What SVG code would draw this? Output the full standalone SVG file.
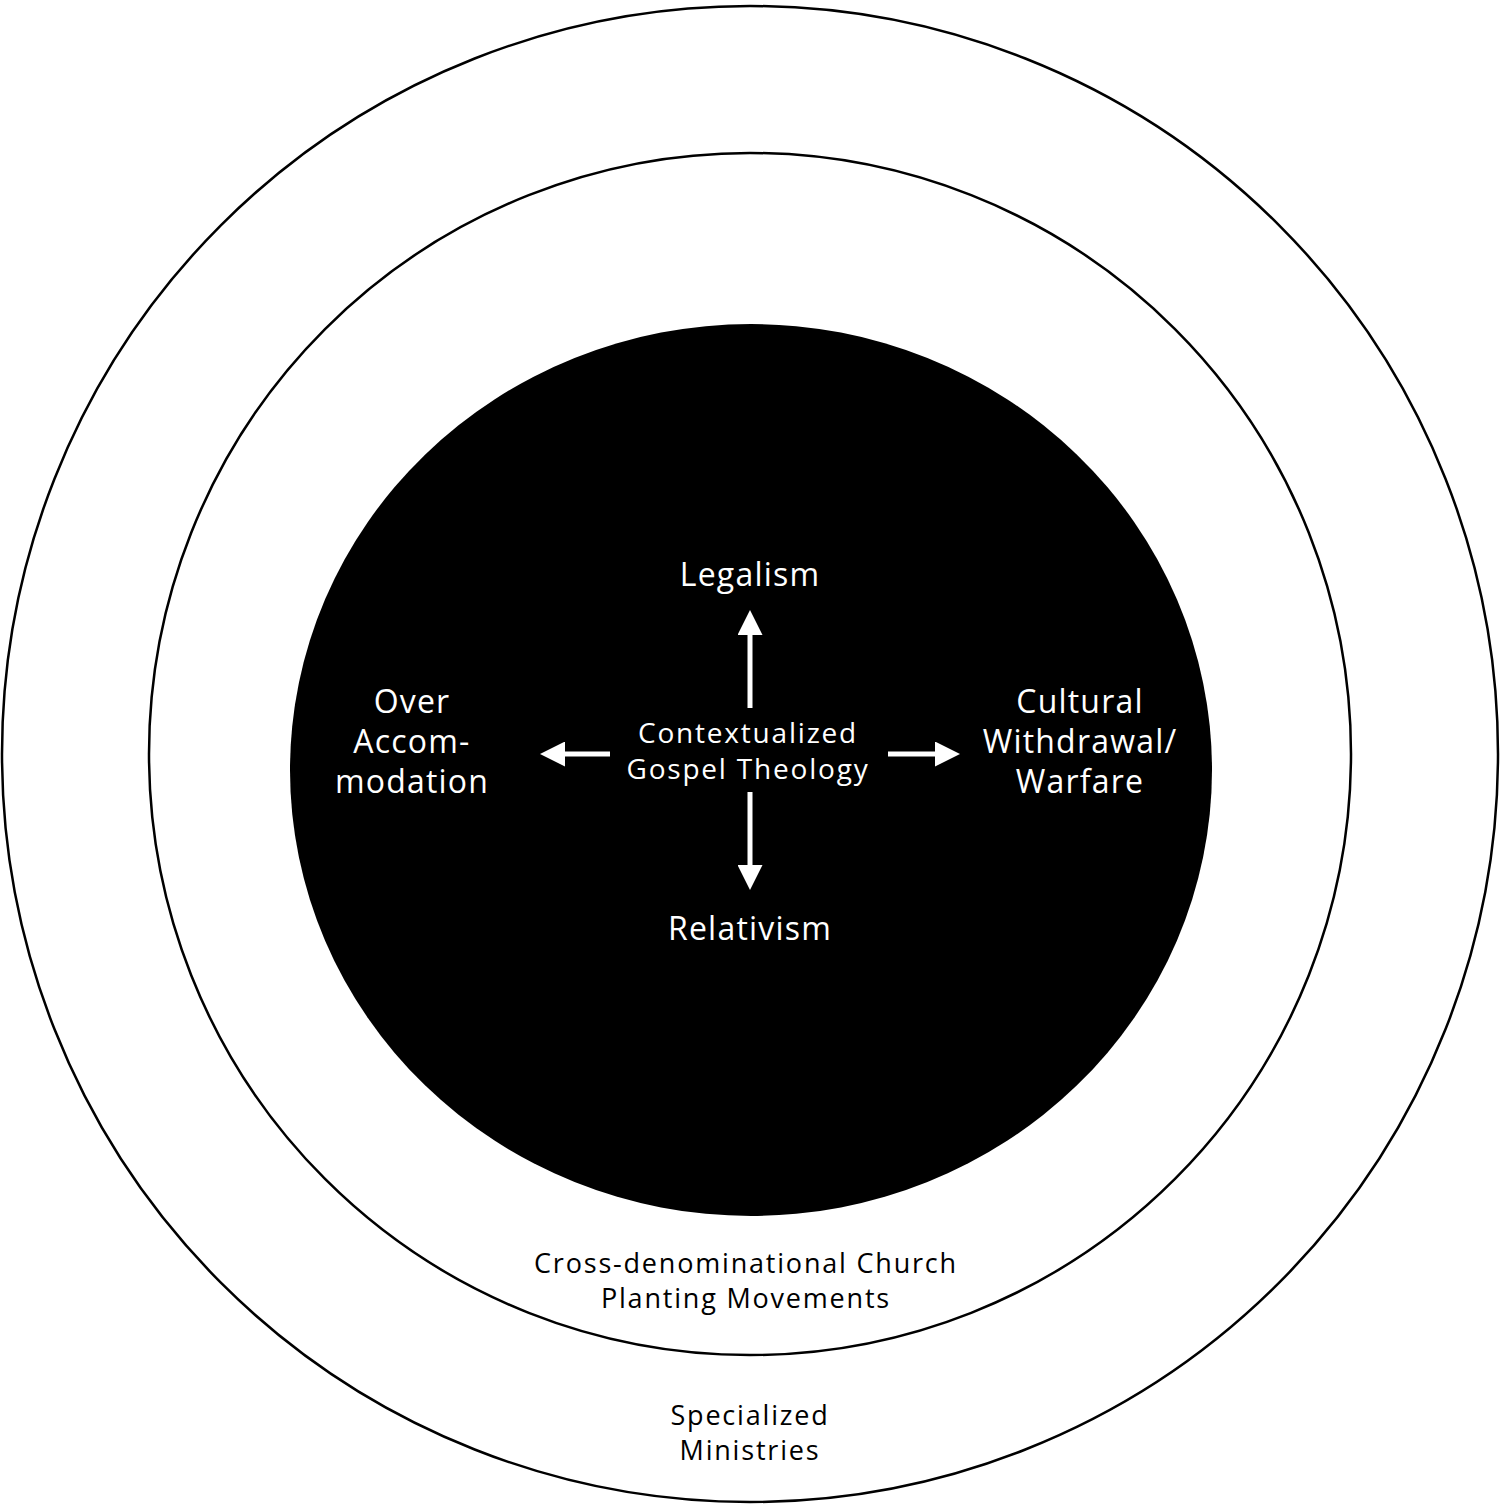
<svg xmlns="http://www.w3.org/2000/svg" width="1500" height="1509" viewBox="0 0 1500 1509">
<style>
.ring{fill:none;stroke:#000;stroke-width:2.5}
.t{font-family:"Open Sans","Liberation Sans",sans-serif;text-anchor:middle;letter-spacing:1.2px}
.w{fill:#fff}
.k{fill:#000;font-size:27px;letter-spacing:1.8px}
.big{font-size:32px}
.mid{font-size:28px;letter-spacing:1.8px}
.arr{stroke:#fff;stroke-width:5;fill:none}
</style>
<defs><marker id="ah" markerWidth="5" markerHeight="5" refX="1" refY="2.5" orient="auto"><path d="M0,0 L5,2.5 L0,5 Z" fill="#fff"/></marker></defs>
<rect width="1500" height="1509" fill="#fff"/>
<g id="outer"><circle class="ring" cx="750" cy="754" r="748"/>
<text class="t k" x="750" y="1425">Specialized</text><text class="t k" x="750" y="1460">Ministries</text></g>
<g id="middle"><circle class="ring" cx="750" cy="754" r="601"/>
<text class="t k" x="746" y="1273">Cross-denominational Church</text><text class="t k" x="746" y="1308">Planting Movements</text></g>
<g id="core"><ellipse cx="751" cy="770" rx="461" ry="446" fill="#000"/>
<text class="t w mid" x="748" y="743">Contextualized</text><text class="t w mid" x="748" y="779">Gospel Theology</text></g>
<g id="legalism"><text class="t w big" x="750" y="586">Legalism</text></g>
<g id="relativism"><text class="t w big" x="750" y="940">Relativism</text></g>
<g id="over"><text class="t w big" x="412" y="713">Over</text><text class="t w big" x="412" y="753">Accom-</text><text class="t w big" x="412" y="793">modation</text></g>
<g id="cultural"><text class="t w big" x="1080" y="713">Cultural</text><text class="t w big" x="1080" y="753">Withdrawal/</text><text class="t w big" x="1080" y="793">Warfare</text></g>
<g id="connectors">
<line class="arr" x1="750" y1="708" x2="750" y2="630" marker-end="url(#ah)"/>
<line class="arr" x1="750" y1="792" x2="750" y2="870" marker-end="url(#ah)"/>
<line class="arr" x1="610" y1="754" x2="560" y2="754" marker-end="url(#ah)"/>
<line class="arr" x1="888" y1="754" x2="940" y2="754" marker-end="url(#ah)"/>
</g>
</svg>
